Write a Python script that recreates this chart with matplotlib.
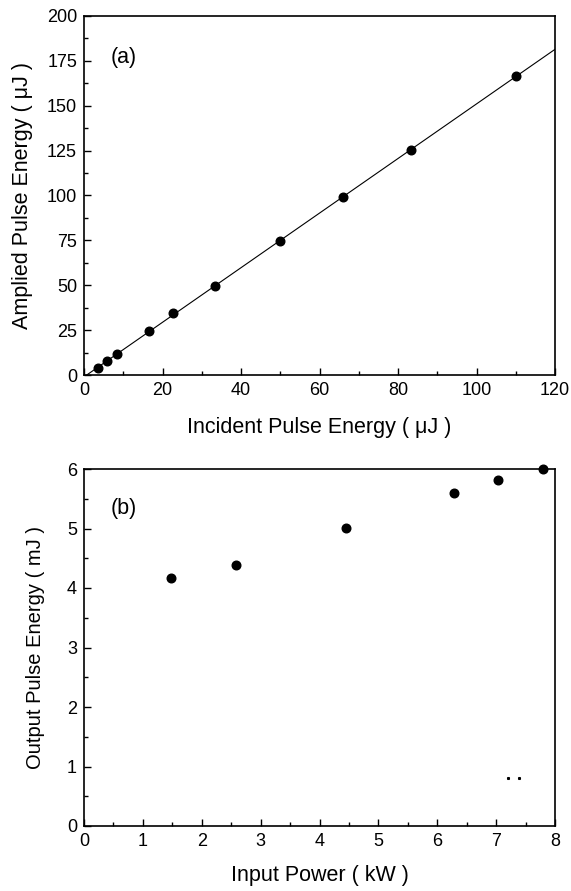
import numpy as np
import matplotlib
matplotlib.use("Agg")
import matplotlib.pyplot as plt
from matplotlib.ticker import MultipleLocator

plt.rcParams['font.family'] = ['Liberation Sans', 'DejaVu Sans']

# Panel (a)
incident = [3.5, 5.9, 8.4, 16.6, 22.8, 33.5, 50.0, 66.0, 83.4, 110.0]
amplified = [4.1, 7.6, 11.5, 24.5, 34.5, 49.8, 74.9, 99.0, 125.5, 166.5]

# Panel (b)
input_power = [1.48, 2.59, 4.45, 6.29, 7.04, 7.79]
output_energy = [4.16, 4.39, 5.01, 5.60, 5.81, 6.0]
stray_x = [7.2, 7.39]
stray_y = [0.8, 0.8]

fig = plt.figure(figsize=(5.71, 8.91), dpi=100)
W, H = 571, 891
axa = fig.add_axes([84 / W, 1 - 375 / H, 471 / W, 359 / H])
axb = fig.add_axes([84 / W, 1 - 826 / H, 471 / W, 357 / H])

tfs = 13
lfs = 15.5

# fit line for (a)
p = np.polyfit(incident, amplified, 1)
x0 = -p[1] / p[0]
xl = np.array([x0, 120])
axa.plot(xl, np.polyval(p, xl), color='black', lw=0.8)
axa.plot(incident, amplified, 'o', color='black', ms=6.2)
axa.set_xlim(0, 120)
axa.set_ylim(0, 200)
axa.xaxis.set_major_locator(MultipleLocator(20))
axa.xaxis.set_minor_locator(MultipleLocator(10))
axa.yaxis.set_major_locator(MultipleLocator(25))
axa.yaxis.set_minor_locator(MultipleLocator(12.5))
axa.set_xlabel('Incident Pulse Energy ( \u03bcJ )', fontsize=lfs, labelpad=13)
axa.set_ylabel('Amplied Pulse Energy ( \u03bcJ )', fontsize=lfs, labelpad=10)
axa.text(0.057, 0.915, '(a)', transform=axa.transAxes, fontsize=lfs, va='top')

axb.plot(input_power, output_energy, 'o', color='black', ms=6.2, clip_on=False)
axb.plot(stray_x, stray_y, 's', color='black', ms=1.2)
axb.set_xlim(0, 8)
axb.set_ylim(0, 6)
axb.xaxis.set_major_locator(MultipleLocator(1))
axb.xaxis.set_minor_locator(MultipleLocator(0.5))
axb.yaxis.set_major_locator(MultipleLocator(1))
axb.yaxis.set_minor_locator(MultipleLocator(0.5))
axb.set_xlabel('Input Power ( kW )', fontsize=15.5, labelpad=11)
axb.set_ylabel('Output Pulse Energy ( mJ )', fontsize=14.5, labelpad=16)
axb.text(0.057, 0.92, '(b)', transform=axb.transAxes, fontsize=lfs, va='top')

for ax in (axa, axb):
    ax.tick_params(which='both', direction='in', top=False, right=False, labelsize=tfs)
    ax.tick_params(which='major', length=5, width=1, pad=5)
    ax.tick_params(which='minor', length=3, width=1)
    for s in ax.spines.values():
        s.set_linewidth(1.2)

fig.savefig('out.png', dpi=100)
